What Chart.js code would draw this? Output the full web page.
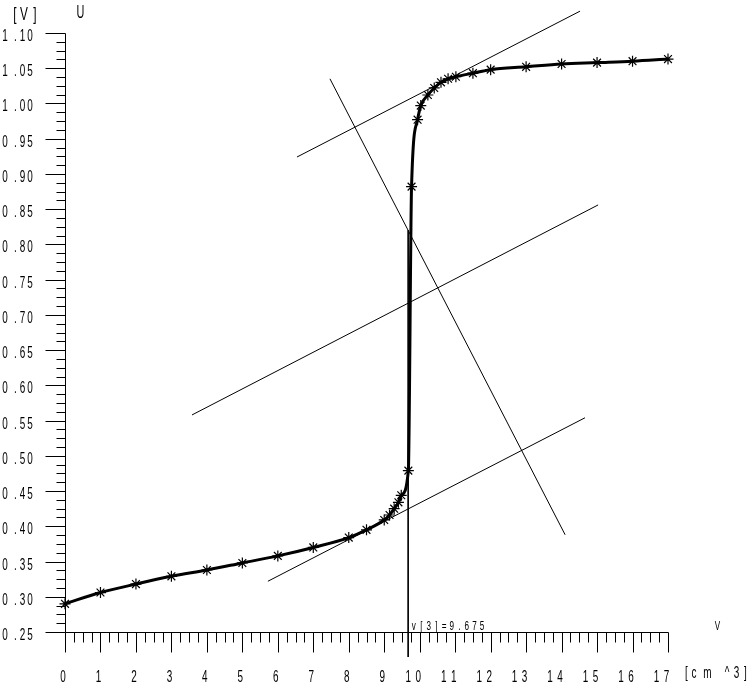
<!DOCTYPE html>
<html>
<head>
<meta charset="utf-8">
<script src="https://cdn.jsdelivr.net/npm/chart.js@4/dist/chart.umd.min.js"></script>
<style>
  html, body { margin: 0; padding: 0; background: #fff; }
  #wrap { width: 752px; height: 688px; }
</style>
</head>
<body>
<div id="wrap"><canvas id="titration" width="752" height="688"></canvas></div>
<script>
// ── DATA ───────────────────────────────────────────────────────
// titrant volume [cm^3] and measured voltage U [V]
const VOLUME  = [0, 1, 2, 3, 4, 5, 6, 7, 8, 8.5, 9, 9.15, 9.28, 9.4, 9.48, 9.68,
                 9.77, 9.94, 10.03, 10.23, 10.41, 10.6, 10.8, 11.02, 11.5, 12, 13, 14, 15, 16, 17];
const VOLTAGE = [0.290, 0.306, 0.318, 0.329, 0.338, 0.348, 0.358, 0.370, 0.384, 0.395, 0.409, 0.416, 0.425, 0.434, 0.444, 0.479,
                 0.882, 0.977, 0.997, 1.012, 1.022, 1.030, 1.035, 1.038, 1.043, 1.048, 1.052, 1.056, 1.058, 1.060, 1.063];

// construction lines (tangent method), endpoints in data units
const TANGENT_TOP    = [[6.54, 0.924], [14.52, 1.131]];
const TANGENT_BOTTOM = [[5.72, 0.322], [14.66, 0.554]];
const MID_PARALLEL   = [[3.58, 0.558], [15.03, 0.856]];
const NORMAL_LINE    = [[7.47, 1.035], [14.10, 0.388]];
const EQUIV_VOLUME   = 9.675;
const EQUIV_LINE_Y   = [0.82, 0.2145];

// axes
const X_TICKS = [0, 1, 2, 3, 4, 5, 6, 7, 8, 9, 10, 11, 12, 13, 14, 15, 16, 17];
const Y_TICKS = [0.25, 0.30, 0.35, 0.40, 0.45, 0.50, 0.55, 0.60, 0.65, 0.70, 0.75, 0.80, 0.85, 0.90, 0.95, 1.00, 1.05, 1.10];
const MINOR_DIV = 4;

// ── TEXT HELPERS ───────────────────────────────────────────────
const FONT = '"Liberation Sans", "DejaVu Sans", sans-serif';

// one glyph, squeezed horizontally, centred on cx, sitting on baseline by
function glyph(ctx, ch, cx, by, size, sx) {
  ctx.save();
  ctx.font = size + 'px ' + FONT;
  ctx.textAlign = 'center';
  ctx.textBaseline = 'alphabetic';
  ctx.translate(cx, by);
  ctx.scale(sx, 1);
  ctx.fillText(ch, 0, 0);
  ctx.restore();
}
function glyphRow(ctx, chars, xs, by, size, sx) {
  chars.forEach((ch, i) => glyph(ctx, ch, xs[i], by, size, sx));
}

// ── AXES PLUGIN: ticks, labels, annotations ────────────────────
const axesPlugin = {
  id: 'plotterAxes',
  afterDraw(chart) {
    const { ctx, scales: { x, y } } = chart;
    const px = v => Math.round(x.getPixelForValue(v)) + 0.5;
    const py = v => Math.round(y.getPixelForValue(v)) + 0.5;
    const xMin = X_TICKS[0], xMax = X_TICKS[X_TICKS.length - 1];
    const yMin = Y_TICKS[0], yMax = Y_TICKS[Y_TICKS.length - 1];

    ctx.save();
    ctx.strokeStyle = '#000';
    ctx.fillStyle = '#000';
    ctx.lineWidth = 1;
    ctx.beginPath();
    // axis lines
    ctx.moveTo(px(xMin), py(yMax)); ctx.lineTo(px(xMin), py(yMin));
    ctx.moveTo(px(xMin), py(yMin)); ctx.lineTo(px(xMax), py(yMin));

    // x ticks (major 20px, minor 10px, downward)
    const xStep = (X_TICKS[1] - X_TICKS[0]) / MINOR_DIV;
    const nx = Math.round((xMax - xMin) / xStep);
    for (let i = 0; i <= nx; i++) {
      const xx = px(xMin + i * xStep);
      const len = i % MINOR_DIV === 0 ? 20 : 10;
      ctx.moveTo(xx, py(yMin)); ctx.lineTo(xx, py(yMin) + len);
    }
    // y ticks (major 20px, minor 9px, leftward)
    const yStep = (Y_TICKS[1] - Y_TICKS[0]) / MINOR_DIV;
    const ny = Math.round((yMax - yMin) / yStep);
    for (let i = 0; i <= ny; i++) {
      const yy = py(yMin + i * yStep);
      const len = i % MINOR_DIV === 0 ? 20 : 9;
      ctx.moveTo(px(xMin) - len, yy); ctx.lineTo(px(xMin), yy);
    }
    ctx.stroke();

    // y tick labels like "0 .2 5"
    Y_TICKS.forEach(v => {
      const s = v.toFixed(2);
      glyphRow(ctx, [s[0], '.', s[2], s[3]], [5, 15.5, 22.5, 30], py(v) + 7, 16, 0.62);
    });
    // x tick labels
    X_TICKS.forEach(v => {
      const s = String(v), t = x.getPixelForValue(v);
      if (s.length === 1) glyph(ctx, s, t - 2, 682, 16, 0.62);
      else glyphRow(ctx, [s[0], s[1]], [t - 11.5, t - 1.5], 682, 16, 0.62);
    });

    // equivalence point label
    const ex = x.getPixelForValue(EQUIV_VOLUME);
    const lbl = ('v[3]=' + EQUIV_VOLUME.toFixed(3)).split('');
    glyphRow(ctx, lbl, lbl.map((_, i) => ex + 5.5 + i * 7.6), 630, 12.5, 0.65);

    // axis titles
    glyphRow(ctx, ['[', 'V', ']'], [15, 24, 35], 20, 19, 0.62);
    glyph(ctx, 'U', 80.5, 18, 17.5, 0.62);
    glyph(ctx, 'V', 717.5, 630, 12.5, 0.65);
    glyphRow(ctx, ['[', 'c', 'm', '^', '3', ']'], [686.5, 694, 707.5, 727, 736.5, 745.5], 678, 16, 0.62);
    ctx.restore();
  }
};

// ── CHART ──────────────────────────────────────────────────────
const pts = arr => arr.map(([vx, vy]) => ({ x: vx, y: vy }));
const thinLine = data => ({
  data, borderColor: '#000', borderWidth: 1, pointRadius: 0, tension: 0, clip: false,
});

new Chart(document.getElementById('titration').getContext('2d'), {
  type: 'line',
  data: {
    datasets: [
      {
        label: 'U',
        data: VOLUME.map((v, i) => ({ x: v, y: VOLTAGE[i] })),
        borderColor: '#000',
        borderWidth: 3,
        cubicInterpolationMode: 'monotone',
        pointStyle: 'star',
        pointRadius: 5.5,
        pointBorderWidth: 1.2,
        pointBorderColor: '#000',
        pointBackgroundColor: '#000',
        clip: false,
      },
      thinLine(pts(TANGENT_TOP)),
      thinLine(pts(TANGENT_BOTTOM)),
      thinLine(pts(MID_PARALLEL)),
      thinLine(pts(NORMAL_LINE)),
      thinLine(EQUIV_LINE_Y.map(vy => ({ x: EQUIV_VOLUME, y: vy }))),
    ],
  },
  options: {
    responsive: false,
    animation: false,
    layout: { padding: { left: 65, right: 84, top: 33, bottom: 56 } },
    plugins: { legend: { display: false }, tooltip: { enabled: false } },
    scales: {
      x: { type: 'linear', min: 0, max: 17, display: false },
      y: { type: 'linear', min: 0.25, max: 1.10, display: false },
    },
  },
  plugins: [axesPlugin],
});
</script>
</body>
</html>
